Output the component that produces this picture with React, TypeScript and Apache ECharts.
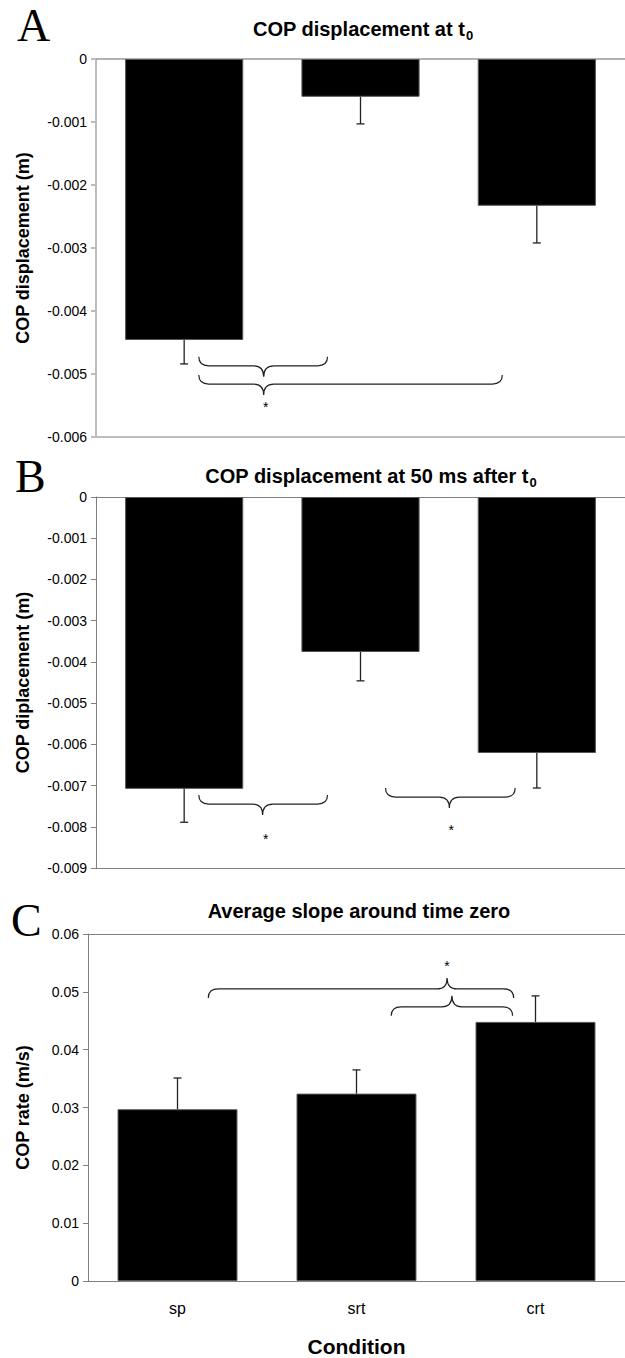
import React, { useEffect, useRef } from "react";
import * as echarts from "echarts";

const categories = ["sp", "srt", "crt"];

// Panel A: COP displacement at t0 (m)
const dispT0 = [-0.00446, -0.0006, -0.00233];
const dispT0Err = [0.00038, 0.00043, 0.00059];

// Panel B: COP displacement at 50 ms after t0 (m)
const disp50 = [-0.00708, -0.00376, -0.00621];
const disp50Err = [0.00081, 0.0007, 0.00085];

// Panel C: COP rate (m/s)
const slope = [0.0297, 0.0324, 0.0448];
const slopeErr = [0.0054, 0.0041, 0.0045];

// significance braces: from/to/tip in category units (0 = first category centre), y in data units
const bracesA = [
  { from: 0.083, to: 0.813, tip: 0.451, y: -0.00487 },
  { from: 0.083, to: 1.804, tip: 0.451, y: -0.00516 },
];
const starsA = [[0.462, -0.00552]];

const bracesB = [
  { from: 0.083, to: 0.813, tip: 0.445, y: -0.00745 },
  { from: 1.142, to: 1.877, tip: 1.504, y: -0.00728 },
];
const starsB = [
  [0.462, -0.0083],
  [1.515, -0.00808],
];

const bracesC = [
  { from: 0.172, to: 1.878, tip: 1.506, y: 0.0505 },
  { from: 1.194, to: 1.872, tip: 1.533, y: 0.0474 },
];
const starsC = [[1.506, 0.0545]];

const SANS = '"Liberation Sans", Arial, sans-serif';
const SERIF = '"Liberation Serif", "Times New Roman", serif';

function fmt(d: number) {
  return (v: number) => (Math.abs(v) < 1e-12 ? "0" : v.toFixed(d));
}

function errorSeries(vals: number[], errs: number[], xi: number, yi: number) {
  return {
    type: "custom",
    xAxisIndex: xi,
    yAxisIndex: yi,
    clip: false,
    z: 5,
    data: vals.map((v, i) => [i, v, Math.sign(v) * errs[i]]),
    renderItem: (params: any, api: any) => {
      const i = api.value(0);
      const v = api.value(1);
      const e = api.value(2);
      const p0 = api.coord([i, v]);
      const p1 = api.coord([i, v + e]);
      const st = { stroke: "#222", lineWidth: 1.3 };
      return {
        type: "group",
        children: [
          { type: "line", shape: { x1: p0[0], y1: p0[1], x2: p1[0], y2: p1[1] }, style: st },
          { type: "line", shape: { x1: p1[0] - 4, y1: p1[1], x2: p1[0] + 4, y2: p1[1] }, style: st },
        ],
      };
    },
  };
}

function braceSeries(
  braces: { from: number; to: number; tip: number; y: number }[],
  stars: number[][],
  xi: number,
  yi: number,
  dir: number
) {
  const items = [
    ...braces.map((b) => ({ kind: "brace", b })),
    ...stars.map((s) => ({ kind: "star", s })),
  ];
  return {
    type: "custom",
    xAxisIndex: xi,
    yAxisIndex: yi,
    clip: false,
    z: 6,
    data: items.map((it: any) => [0, it.kind === "brace" ? it.b.y : it.s[1]]),
    renderItem: (params: any, api: any) => {
      const it: any = items[params.dataIndex];
      const yv = it.kind === "brace" ? it.b.y : it.s[1];
      const a = api.coord([0, yv]);
      const c = api.coord([1, yv]);
      const px = (u: number) => a[0] + (c[0] - a[0]) * u;
      const y0 = a[1];
      if (it.kind === "star") {
        return {
          type: "text",
          x: px(it.s[0]),
          y: y0,
          style: {
            text: "*",
            font: `14px ${SANS}`,
            fill: "#000",
            align: "center",
            verticalAlign: "middle",
          },
        };
      }
      const b = it.b;
      const x1 = px(b.from);
      const x2 = px(b.to);
      const xt = px(b.tip);
      const h = 9 * dir;
      const t = 11 * dir;
      const r = 10;
      const d =
        `M${x1},${y0 - h} Q${x1},${y0} ${x1 + r},${y0} L${xt - r},${y0} ` +
        `Q${xt},${y0} ${xt},${y0 + t} Q${xt},${y0} ${xt + r},${y0} ` +
        `L${x2 - r},${y0} Q${x2},${y0} ${x2},${y0 - h}`;
      return {
        type: "path",
        shape: { pathData: d },
        style: { fill: "none", stroke: "#222", lineWidth: 1.2 },
      };
    },
  };
}

function barSeries(vals: number[], xi: number, yi: number) {
  return {
    type: "bar",
    xAxisIndex: xi,
    yAxisIndex: yi,
    data: vals,
    barWidth: "67%",
    itemStyle: { color: "#000", borderColor: "#555", borderWidth: 1 },
  };
}

function hiddenBorderAxis(gi: number, pos: string, color: string, width: number) {
  return {
    type: "category",
    gridIndex: gi,
    data: categories,
    position: pos,
    axisLine: { show: true, onZero: false, lineStyle: { color, width } },
    axisTick: { show: false },
    axisLabel: { show: false },
    splitLine: { show: false },
  };
}

function titleRich(main: string) {
  return {
    text: `{a|${main}}{s|0}`,
    textStyle: {
      rich: {
        a: { fontFamily: SANS, fontWeight: "bold", fontSize: 20, color: "#000", lineHeight: 26 },
        s: {
          fontFamily: SANS,
          fontWeight: "bold",
          fontSize: 13,
          color: "#000",
          lineHeight: 26,
          verticalAlign: "bottom",
          padding: [9, 0, 0, 1],
        },
      },
    },
  };
}

export default function App() {
  const ref = useRef<HTMLDivElement>(null);

  useEffect(() => {
    if (!ref.current) return;
    const chart = echarts.init(ref.current, undefined, { renderer: "svg" });
    const lightA = "#bdbdbd";
    const dark = "#808080";

    const yBase = (gi: number, min: number, max: number, interval: number, d: number, name: string, color: string, lw: number, gap: number) => ({
      type: "value",
      gridIndex: gi,
      min,
      max,
      interval,
      name,
      nameLocation: "middle",
      nameGap: gap,
      nameTextStyle: { fontFamily: SANS, fontWeight: "bold", fontSize: 18, color: "#000" },
      axisLine: { show: true, lineStyle: { color, width: lw } },
      axisTick: { show: true, length: 5, lineStyle: { color, width: lw } },
      axisLabel: { formatter: fmt(d), fontFamily: SANS, fontSize: 14, color: "#000", margin: 9 },
      splitLine: { show: false },
    });

    const option: any = {
      animation: false,
      backgroundColor: "#fff",
      title: [
        { ...titleRich("COP displacement at t"), left: 358, top: 11, textAlign: "center" },
        { ...titleRich("COP displacement at 50 ms after t"), left: 366, top: 458, textAlign: "center" },
        {
          text: "Average slope around time zero",
          left: 354,
          top: 896,
          textAlign: "center",
          textStyle: { fontFamily: SANS, fontWeight: "bold", fontSize: 20, color: "#000" },
        },
      ],
      graphic: [
        { type: "text", x: 17, y: 25, style: { text: "A", font: `46px ${SERIF}`, fill: "#000", verticalAlign: "middle" } },
        { type: "text", x: 15, y: 476, style: { text: "B", font: `46px ${SERIF}`, fill: "#000", verticalAlign: "middle" } },
        { type: "text", x: 11, y: 920, style: { text: "C", font: `46px ${SERIF}`, fill: "#000", verticalAlign: "middle" } },
      ],
      grid: [
        { left: 96, top: 59, width: 530, height: 378 },
        { left: 96, top: 497, width: 530, height: 371 },
        { left: 88, top: 934, width: 540, height: 347 },
      ],
      xAxis: [
        {
          type: "category",
          gridIndex: 0,
          data: categories,
          axisLine: { show: true, onZero: true, lineStyle: { color: "#999", width: 1.5 } },
          axisTick: { show: false },
          axisLabel: { show: false },
        },
        hiddenBorderAxis(0, "bottom", lightA, 2),
        {
          type: "category",
          gridIndex: 1,
          data: categories,
          axisLine: { show: true, onZero: true, lineStyle: { color: dark, width: 1 } },
          axisTick: { show: false },
          axisLabel: { show: false },
        },
        hiddenBorderAxis(1, "bottom", dark, 1),
        {
          type: "category",
          gridIndex: 2,
          data: categories,
          position: "bottom",
          name: "Condition",
          nameLocation: "middle",
          nameGap: 55,
          nameTextStyle: { fontFamily: SANS, fontWeight: "bold", fontSize: 21, color: "#000" },
          axisLine: { show: true, onZero: true, lineStyle: { color: dark, width: 1 } },
          axisTick: { show: false },
          axisLabel: { fontFamily: SANS, fontSize: 16, color: "#000", margin: 19 },
        },
        hiddenBorderAxis(2, "top", dark, 1),
      ],
      yAxis: [
        yBase(0, -0.006, 0, 0.001, 3, "COP displacement (m)", lightA, 2, 64),
        yBase(1, -0.009, 0, 0.001, 3, "COP diplacement (m)", dark, 1, 64),
        yBase(2, 0, 0.06, 0.01, 2, "COP rate (m/s)", dark, 1, 56),
      ],
      series: [
        barSeries(dispT0, 0, 0),
        errorSeries(dispT0, dispT0Err, 0, 0),
        braceSeries(bracesA, starsA, 0, 0, 1),
        barSeries(disp50, 2, 1),
        errorSeries(disp50, disp50Err, 2, 1),
        braceSeries(bracesB, starsB, 2, 1, 1),
        barSeries(slope, 4, 2),
        errorSeries(slope, slopeErr, 4, 2),
        braceSeries(bracesC, starsC, 4, 2, -1),
      ],
    };
    chart.setOption(option);
    return () => chart.dispose();
  }, []);

  return (
    <div
      ref={ref}
      style={{ position: "absolute", left: 0, top: 0, width: 625, height: 1358, background: "#fff" }}
    />
  );
}
